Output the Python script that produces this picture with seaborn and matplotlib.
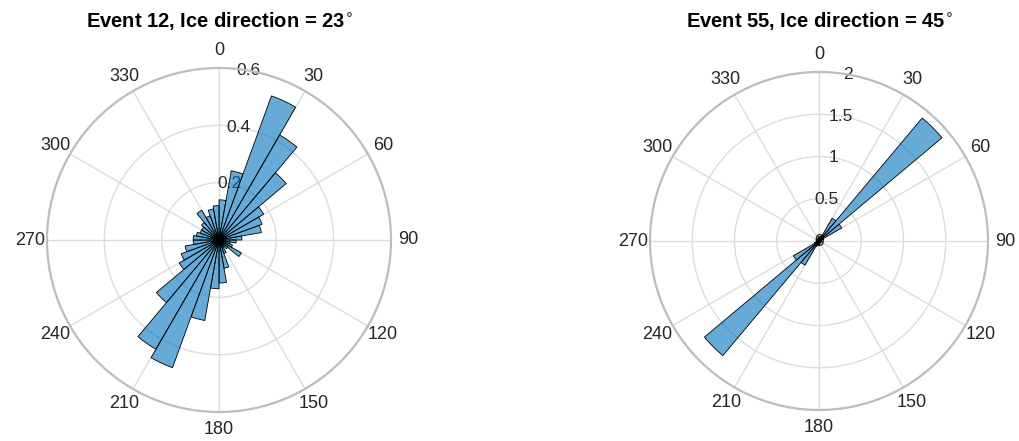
import numpy as np
import pandas as pd
import matplotlib
matplotlib.use("Agg")
import matplotlib.pyplot as plt
import seaborn as sns

# Bin edges in degrees (clockwise from north), 10-degree bins
bin_edges_deg = np.arange(0, 361, 10)

# Normalised counts per bin for each event
event12_values = [
    0.14, 0.245, 0.535, 0.423, 0.306, 0.18, 0.16, 0.15, 0.08,
    0.06, 0.04, 0.05, 0.09, 0.04, 0.03, 0.05, 0.10, 0.15,
    0.17, 0.285, 0.474, 0.44, 0.285, 0.16, 0.14, 0.12, 0.09,
    0.09, 0.08, 0.07, 0.07, 0.08, 0.12, 0.09, 0.11, 0.12,
]
event55_values = [
    0.05, 0.04, 0.07, 0.31, 1.90, 0.31, 0.06, 0.03, 0.02,
    0.02, 0.03, 0.02, 0.03, 0.02, 0.03, 0.02, 0.03, 0.05,
    0.05, 0.04, 0.07, 0.33, 1.77, 0.35, 0.06, 0.03, 0.02,
    0.02, 0.03, 0.02, 0.03, 0.02, 0.03, 0.02, 0.03, 0.05,
]

titles = ["Event 12, Ice direction = 23$^{\\circ}$",
          "Event 55, Ice direction = 45$^{\\circ}$"]
r_ticks = [[0, 0.2, 0.4, 0.6], [0, 0.5, 1, 1.5, 2]]
r_ticklabels = [["0", "0.2", "0.4", "0.6"], ["0", "0.5", "1", "1.5", "2"]]
theta_ticks = list(range(0, 360, 30))
theta_ticklabels = [str(t) for t in theta_ticks]

sns.set_theme(style="white")
plt.rcParams["font.family"] = ["Liberation Sans", "DejaVu Sans"]

W, H = 1019, 441
fig = plt.figure(figsize=(W / 100, H / 100), dpi=100)

# pixel centre and radius of each polar panel
centers_px = [(219, 240), (819, 241)]
radii_px = [172, 169]

bar_color = "#0072BD"
series = [event12_values, event55_values]

for i, values in enumerate(series):
    cx, cy = centers_px[i]
    rp = radii_px[i]
    ax = fig.add_axes([(cx - rp) / W, 1 - (cy + rp) / H,
                       2 * rp / W, 2 * rp / H],
                      projection="polar")
    ax.set_theta_zero_location("N")
    ax.set_theta_direction(-1)

    edges = [float(e) for e in np.deg2rad(bin_edges_deg)]
    centers = [(a + b) / 2 for a, b in zip(edges[:-1], edges[1:])]
    df = pd.DataFrame({"theta": centers, "value": values})
    sns.histplot(data=df, x="theta", weights="value", bins=edges, ax=ax,
                 color=bar_color, alpha=0.6, edgecolor="black",
                 linewidth=0.6, legend=False)

    ax.set_xlabel("")
    ax.set_ylabel("")
    ax.set_thetagrids(theta_ticks, labels=theta_ticklabels)
    ax.set_rlim(0, r_ticks[i][-1])
    ax.set_rticks(r_ticks[i])
    ax.set_yticklabels(r_ticklabels[i])
    ax.set_rlabel_position(10)
    for lab in ax.get_yticklabels():
        lab.set_ha("center")
        lab.set_va("center")
    ax.tick_params(axis="x", labelsize=13, labelcolor="#262626", pad=-0.5)
    ax.tick_params(axis="y", labelsize=12.5, labelcolor="#262626")
    ax.grid(True, color="#dcdcdc", linewidth=1.0)
    ax.spines["polar"].set_color("#bdbdbd")
    ax.spines["polar"].set_linewidth(1.6)
    ax.set_facecolor("white")
    ax.set_axisbelow(True)
    fig.text(cx / W, 1 - 21 / H, titles[i], ha="center", va="center",
             fontsize=14.5, fontweight="bold", color="black")

fig.savefig("out.png", dpi=100, facecolor="white")
